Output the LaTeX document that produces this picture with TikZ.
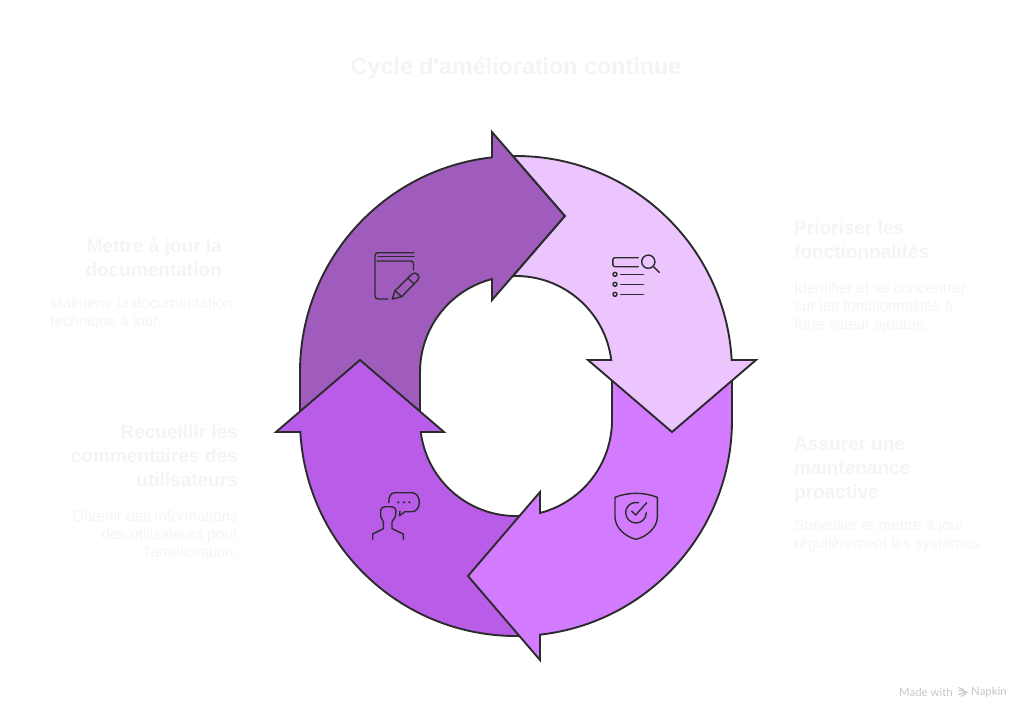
\documentclass[tikz,border=0pt]{standalone}
\usepackage{fontspec,xcolor}
\newfontfamily\labelfont{Liberation Sans}
\newfontfamily\markfont{Lato}
\definecolor{inkline}{HTML}{2B2B2B}
\definecolor{fadetext}{HTML}{F4F4F4}
\definecolor{marktext}{HTML}{C6C6C6}
\definecolor{armdoc}{HTML}{A05CBC}
\definecolor{armprio}{HTML}{ECC5FF}
\definecolor{armmaint}{HTML}{D27BFF}
\definecolor{armuser}{HTML}{B95DE8}
\tikzset{
arm/.style={draw=inkline,line width=1.9pt,line join=miter},
icon/.style={draw=inkline,line width=1.4pt,line cap=round,line join=round},
titletext/.style={inner sep=0pt,text=fadetext,font=\labelfont\bfseries\fontsize{23.3}{28}\selectfont},
headtext/.style={inner sep=0pt,text=fadetext,font=\labelfont\bfseries\fontsize{19}{24}\selectfont},
bodytext/.style={inner sep=0pt,text=fadetext,font=\labelfont\fontsize{15.2}{18}\selectfont},
marklabel/.style={inner sep=0pt,anchor=west,text=marktext,font=\markfont\fontsize{11.4}{13}\selectfont},
}
\begin{document}
\begin{tikzpicture}[x=1pt,y=-1pt]
\useasboundingbox(0,0)rectangle(1032,721);
\draw[arm,fill=armdoc](300,425)--(300,372)arc[start angle=180,end angle=263.62,radius=216]--(492,132)--(565,216)--(492,300)--(492,279.05)arc[start angle=255.52,end angle=180,radius=96]--(420,425)--cycle;
\draw[arm,fill=armuser](530,635.55)arc[start angle=86.28,end angle=176.82,radius=216]--(276,432)--(360,360)--(444,432)--(420.75,432)arc[start angle=172.82,end angle=81.61,radius=96]--cycle;
\draw[arm,fill=armmaint](732,370)--(732,420)arc[start angle=0,end angle=83.62,radius=216]--(540,660)--(468,576)--(540,492)--(540,512.95)arc[start angle=75.52,end angle=0,radius=96]--(612,370)--cycle;
\draw[arm,fill=armprio](513,156.02)arc[start angle=269.2,end angle=356.82,radius=216]--(756,360)--(672,432)--(588,360)--(611.25,360)arc[start angle=352.82,end angle=268.21,radius=96]--(565,216)--cycle;
\draw[icon](414,252.7)--(378,252.7)arc[start angle=270,end angle=180,radius=3]--(375,296)arc[start angle=180,end angle=90,radius=3]--(388,299);
\draw[icon](414,256.7)--(378,256.7);
\draw[icon](377,261)--(411,261)arc[start angle=270,end angle=360,radius=2.5]--(413.5,270);
\draw[icon](392.3,299)--(395,290.7)--(411.7,274.3)arc[start angle=225,end angle=405,radius=4.2]--(401.7,296.7)--cycle;
\draw[icon](395,290.7)--(401.7,296.7)(408,278)--(414.2,284.2);
\draw[icon](638.3,257.7)--(615,257.7)arc[start angle=270,end angle=180,radius=2.2]--(612.8,264.5)arc[start angle=180,end angle=90,radius=2.2]--(638.3,266.7);
\draw[icon](648.3,261.7)circle[radius=6.6];
\draw[icon](653.6,266.8)--(659.3,272.3);
\foreach \rowy in {274.3,284.3,294.3}{
\draw[icon](615,\rowy)circle[radius=2];
\draw[icon](620.7,\rowy)--(643.3,\rowy);
}
\draw[icon](388.7,502.7)..controls(388.7,496)and(391,492.7)..(395,492.7)--(411.7,492.7)..controls(416.5,492.7)and(419.3,497)..(419.3,502.3)..controls(419.3,508)and(416,511.7)..(411.7,511.7)--(405,511.7)--(399.3,515.7)--(400,511);
\foreach \dotx in {398.3,404,409.3}{
\fill[inkline](\dotx,502.3)circle[radius=1.2];
}
\draw[icon](372.7,539.3)--(372.7,534)--(383.3,528.7)--(383.3,521.7)--(380.7,516.7)--(380.7,510.7)..controls(381.5,507.5)and(383,506.7)..(385,506.7)--(391.7,506.7)..controls(394,506.7)and(395.5,508)..(396,510.7)--(395.3,516.7)--(392,521.7)--(392,528.7)--(403.3,534)--(403.3,539.3);
\draw[icon](615,497.3)..controls(628,492)and(644,492)..(657.3,497.3)--(657.3,517)..controls(657.3,528)and(646,537)..(636,539.3)..controls(626,537)and(615,528)..(615,517)--cycle;
\draw[icon](646.3,512.7)arc[start angle=0,end angle=285,radius=10.3];
\draw[icon](631.7,511)--(635.7,515)--(646.7,502.7);
\node[titletext,anchor=center](titlecycle)at(516,68.5){Cycle d'amélioration continue};
\node[headtext,anchor=north east,align=right](headdoc)at(222,238.5){Mettre à jour la\\documentation};
\node[bodytext,anchor=north west,align=left](bodydoc)at(50,297){Maintenir la documentation\\technique à jour.};
\node[headtext,anchor=north east,align=right](headuser)at(238,424.5){Recueillir les\\commentaires des\\utilisateurs};
\node[bodytext,anchor=north east,align=right](bodyuser)at(238,510){Obtenir des informations\\des utilisateurs pour\\l'amélioration.};
\node[headtext,anchor=north west,align=left](headprio)at(794,220.5){Prioriser les\\fonctionnalités};
\node[bodytext,anchor=north west,align=left](bodyprio)at(794,282){Identifier et se concentrer\\sur les fonctionnalités à\\forte valeur ajoutée.};
\node[headtext,anchor=north west,align=left](headmaint)at(794,437.5){Assurer une\\maintenance\\proactive};
\node[bodytext,anchor=north west,align=left](bodymaint)at(794,519){Surveiller et mettre à jour\\régulièrement les systèmes.};
\node[marklabel](markmade)at(899,692.5){Made with};
\node[marklabel](markname)at(971,692.5){Napkin};
\draw[marktext,line width=1.1pt](958.5,687.5)--(964,690)(958.5,690)--(966.5,692)--(958.5,694.5)(961,696.5)--(966.5,693.5);
\end{tikzpicture}
\end{document}
